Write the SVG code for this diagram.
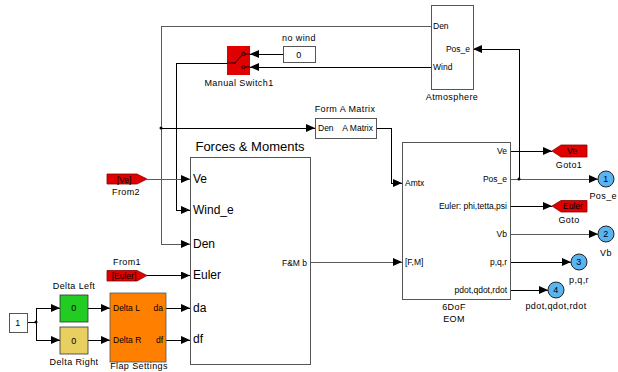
<svg xmlns="http://www.w3.org/2000/svg" width="618" height="372" viewBox="0 0 618 372">
<defs>
<marker id="ah" markerUnits="userSpaceOnUse" markerWidth="10" markerHeight="8" refX="9" refY="4" orient="auto">
<path d="M0,0 L9,4 L0,8 Z" fill="#000"/>
</marker>
<style>
text{font-family:"Liberation Sans",Arial,sans-serif;fill:#000}
.s{font-size:8.5px}
.l{font-size:9px;letter-spacing:0.4px}
.p{font-size:12px}
.blk{fill:#fff;stroke:#555;stroke-width:1;shape-rendering:crispEdges}
.w{fill:none;stroke:#000;stroke-width:1;shape-rendering:crispEdges}
.g{fill:none;stroke:#5a5a5a;stroke-width:1;shape-rendering:crispEdges}
.a{marker-end:url(#ah)}
.red{fill:#e00000;stroke:#800;stroke-width:0.8}
.out{fill:#5ab4f0;stroke:#222;stroke-width:1}
</style>
</defs>
<rect width="618" height="372" fill="#fff"/>
<g id="connectors">
<path class="g a" d="M431,26 H161 V244 H190"/>
<path class="w a" d="M161,128 H315"/>
<circle cx="161" cy="128" r="1.5" fill="#000"/>
<path class="w a" d="M431,67 H250"/>
<path class="w a" d="M283,54 H250"/>
<path class="w a" d="M227,63 H176 V210 H190"/>
<path class="g a" d="M147,179 H190"/>
<path class="w a" d="M147,275.5 H190"/>
<path class="w" d="M27,322 H36 M36,308 V340"/>
<circle cx="36" cy="322" r="1.5" fill="#000"/>
<path class="w a" d="M36,308 H60"/>
<path class="w a" d="M36,340 H60"/>
<path class="w a" d="M88,308 H110"/>
<path class="w a" d="M88,340 H110"/>
<path class="w a" d="M166,308 H190"/>
<path class="w a" d="M166,340 H190"/>
<path class="g a" d="M310,262 H402"/>
<path class="w a" d="M376,128 H391 V183 H402"/>
<path class="w a" d="M510,151 H552"/>
<path class="g a" d="M510,179 H598"/>
<path class="w a" d="M519,179 V49 H473"/>
<circle cx="519" cy="179" r="1.5" fill="#000"/>
<path class="w a" d="M510,206 H552"/>
<path class="g a" d="M510,234 H598"/>
<path class="w a" d="M510,262 H571"/>
<path class="w a" d="M510,290 H548"/>
</g>
<g id="atmosphere">
<rect class="blk" x="431" y="5" width="42" height="84"/>
<text class="s" x="433" y="29">Den</text>
<text class="s" x="470" y="52" text-anchor="end">Pos_e</text>
<text class="s" x="433" y="70">Wind</text>
<text class="l" x="452" y="100" text-anchor="middle">Atmosphere</text>
</g>
<g id="no-wind">
<rect class="blk" x="283" y="46" width="32" height="16"/>
<text class="l" x="299" y="57.5" text-anchor="middle">0</text>
<text class="l" x="299" y="41" text-anchor="middle">no wind</text>
</g>
<g id="manual-switch">
<rect x="227" y="46" width="23" height="29" fill="#e00000"/>
<circle cx="243.5" cy="54" r="1.6" fill="none" stroke="#000" stroke-width="0.8"/>
<circle cx="243.5" cy="67" r="1.6" fill="none" stroke="#000" stroke-width="0.8"/>
<path d="M227,63 H235 L242,55 M245,54 H250 M245,67 H250" fill="none" stroke="#000" stroke-width="0.8"/>
<circle cx="235" cy="63" r="1" fill="#000"/>
<text class="l" x="239" y="86" text-anchor="middle">Manual Switch1</text>
</g>
<g id="form-a-matrix">
<rect class="blk" x="315" y="118" width="61" height="20"/>
<text class="s" x="318" y="131">Den</text>
<text class="s" x="373" y="131" text-anchor="end">A Matrix</text>
<text class="l" x="345" y="112" text-anchor="middle">Form A Matrix</text>
</g>
<g id="from2">
<path class="red" d="M107,174 H137 L147,179 L137,184 H107 Z"/>
<text class="s" x="124" y="182.5" text-anchor="middle">[Ve]</text>
<text class="l" x="126" y="195" text-anchor="middle">From2</text>
</g>
<g id="from1">
<path class="red" d="M107,270.5 H137 L147,275.5 L137,281 H107 Z"/>
<text class="s" x="124" y="279" text-anchor="middle">[Euler]</text>
<text class="l" x="127" y="265" text-anchor="middle">From1</text>
</g>
<g id="forces-moments">
<rect class="blk" x="190" y="157" width="120" height="207"/>
<text x="250" y="151" text-anchor="middle" font-size="13">Forces &amp; Moments</text>
<text class="p" x="193" y="183">Ve</text>
<text class="p" x="193" y="214">Wind_e</text>
<text class="p" x="193" y="248">Den</text>
<text class="p" x="193" y="279">Euler</text>
<text class="p" x="193" y="312">da</text>
<text class="p" x="193" y="343">df</text>
<text class="s" x="307" y="265.5" text-anchor="end">F&amp;M b</text>
</g>
<g id="const1">
<rect class="blk" x="9" y="313" width="18" height="19"/>
<text class="l" x="18" y="325.5" text-anchor="middle">1</text>
</g>
<g id="delta-left">
<rect x="60" y="295" width="28" height="27" fill="#22cc22" stroke="#333" stroke-width="0.8"/>
<text class="l" x="74" y="311" text-anchor="middle">0</text>
<text class="l" x="74" y="289" text-anchor="middle">Delta Left</text>
</g>
<g id="delta-right">
<rect x="60" y="327" width="28" height="27" fill="#e8d060" stroke="#333" stroke-width="0.8"/>
<text class="l" x="74" y="343.5" text-anchor="middle">0</text>
<text class="l" x="74" y="365" text-anchor="middle">Delta Right</text>
</g>
<g id="flap-settings">
<rect x="110" y="293" width="56" height="69" fill="#ff8000" stroke="#555" stroke-width="0.8"/>
<text class="s" x="113" y="311">Delta L</text>
<text class="s" x="163" y="311" text-anchor="end">da</text>
<text class="s" x="113" y="343">Delta R</text>
<text class="s" x="163" y="343" text-anchor="end">df</text>
<text class="l" x="139" y="369" text-anchor="middle">Flap Settings</text>
</g>
<g id="eom">
<rect class="blk" x="402" y="142" width="108" height="157"/>
<text class="s" x="507" y="154" text-anchor="end">Ve</text>
<text class="s" x="507" y="182" text-anchor="end">Pos_e</text>
<text class="s" x="507" y="209" text-anchor="end">Euler: phi,tetta,psi</text>
<text class="s" x="507" y="237" text-anchor="end">Vb</text>
<text class="s" x="507" y="265" text-anchor="end">p,q,r</text>
<text class="s" x="507" y="293" text-anchor="end">pdot,qdot,rdot</text>
<text class="s" x="405" y="186">Amtx</text>
<text class="s" x="405" y="265">[F,M]</text>
<text class="l" x="454" y="310" text-anchor="middle">6DoF</text>
<text class="l" x="454" y="322" text-anchor="middle">EOM</text>
</g>
<g id="goto1">
<path class="red" d="M552,151 L561,145 H587 V157 H561 Z"/>
<text class="s" x="572" y="154" text-anchor="middle">Ve</text>
<text class="l" x="569" y="168" text-anchor="middle">Goto1</text>
</g>
<g id="goto">
<path class="red" d="M552,206 L561,200.5 H587 V212 H561 Z"/>
<text class="s" x="573" y="209" text-anchor="middle">Euler</text>
<text class="l" x="569" y="223" text-anchor="middle">Goto</text>
</g>
<g id="out1">
<circle class="out" cx="606" cy="179" r="8"/>
<text class="l" x="606" y="182" text-anchor="middle">1</text>
<text class="l" x="617" y="199" text-anchor="end">Pos_e</text>
</g>
<g id="out2">
<circle class="out" cx="606" cy="234" r="8"/>
<text class="l" x="606" y="237" text-anchor="middle">2</text>
<text class="l" x="606" y="256" text-anchor="middle">Vb</text>
</g>
<g id="out3">
<circle class="out" cx="579" cy="262" r="8"/>
<text class="l" x="579" y="265" text-anchor="middle">3</text>
<text class="l" x="579" y="283" text-anchor="middle">p,q,r</text>
</g>
<g id="out4">
<circle class="out" cx="556" cy="290" r="8"/>
<text class="l" x="556" y="293" text-anchor="middle">4</text>
<text class="l" x="556" y="309" text-anchor="middle">pdot,qdot,rdot</text>
</g>
</svg>
